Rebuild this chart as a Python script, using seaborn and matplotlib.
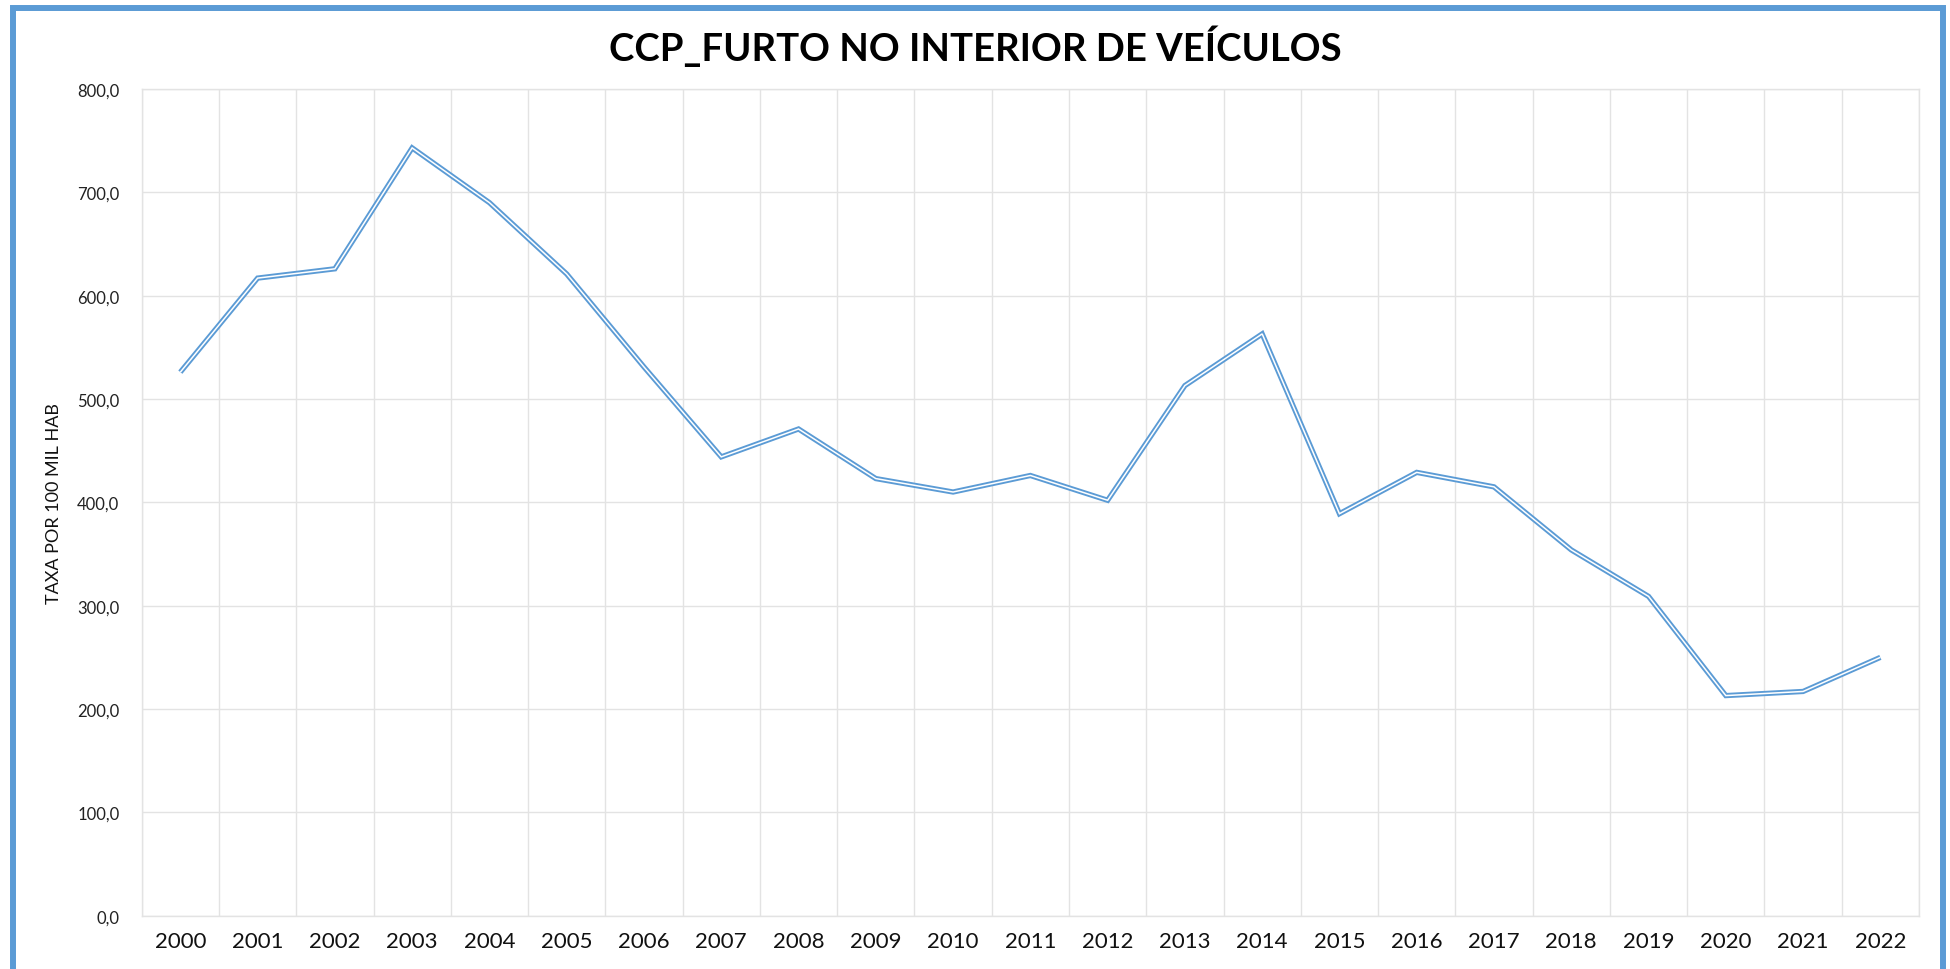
import numpy as np
import pandas as pd
import seaborn as sns
import matplotlib.pyplot as plt
from matplotlib.patches import Rectangle
from matplotlib.ticker import FuncFormatter, MultipleLocator

# valores
anos = list(range(2000, 2023))
taxa = [526, 617, 626, 743, 690, 621, 531, 444, 471, 423, 410, 426,
        402, 513, 563, 389, 429, 415, 354, 309, 213, 217, 250]

titulo = "CCP_FURTO NO INTERIOR DE VEÍCULOS"
rotulo_y = "TAXA POR 100 MIL HAB"

azul = "#5B9BD5"
cinza_grade = "#E3E3E3"

sns.set_theme(style="white")
plt.rcParams["font.family"] = ["Lato", "DejaVu Sans"]

df = pd.DataFrame({"ano": anos, "taxa": taxa})

fig = plt.figure(figsize=(19.5, 9.7), dpi=100)
ax = fig.add_axes([141.7 / 1950, (970 - 916.7) / 970,
                   (1919 - 141.7) / 1950, (916.7 - 90) / 970])

# linha dupla (estilo Excel): traco azul largo com nucleo branco
sns.lineplot(data=df, x="ano", y="taxa", ax=ax, color=azul, linewidth=3.8,
             solid_joinstyle="miter", solid_capstyle="butt", zorder=3)
sns.lineplot(data=df, x="ano", y="taxa", ax=ax, color="white", linewidth=1.1,
             solid_joinstyle="miter", solid_capstyle="butt", zorder=4)

ax.set_xlim(anos[0] - 0.5, anos[-1] + 0.5)
ax.set_ylim(0, 800)
ax.yaxis.set_major_locator(MultipleLocator(100))
ax.yaxis.set_major_formatter(FuncFormatter(lambda v, _: f"{v:.1f}".replace(".", ",")))
ax.set_xticks(anos)
ax.set_xticklabels([str(a) for a in anos])
ax.set_xticks(np.arange(anos[0] - 0.5, anos[-1] + 1), minor=True)

ax.grid(False)
ax.grid(True, axis="y", which="major", color=cinza_grade, linewidth=1.0)
ax.grid(True, axis="x", which="minor", color=cinza_grade, linewidth=1.0)
for s in ax.spines.values():
    s.set_color(cinza_grade)
    s.set_linewidth(1.0)

ax.tick_params(axis="both", which="both", length=0)
ax.tick_params(axis="y", labelsize=12, pad=16, colors="#222222")
ax.tick_params(axis="x", labelsize=16, pad=11, colors="#111111")

ax.set_xlabel("")
ax.set_ylabel(rotulo_y, fontsize=13, color="#111111", labelpad=11)

fig.text(0.5, 1 - 46 / 970, titulo, ha="center", va="center",
         fontsize=27.5, fontweight="bold", color="black")

# moldura azul em volta da figura
moldura = Rectangle((13 / 1950, -2 / 970), (1943 - 13) / 1950, (972 - 8.5) / 970,
                    transform=fig.transFigure, fill=False, edgecolor=azul,
                    linewidth=4.3, clip_on=False)
fig.patches.append(moldura)

fig.savefig("out.png", dpi=100)
